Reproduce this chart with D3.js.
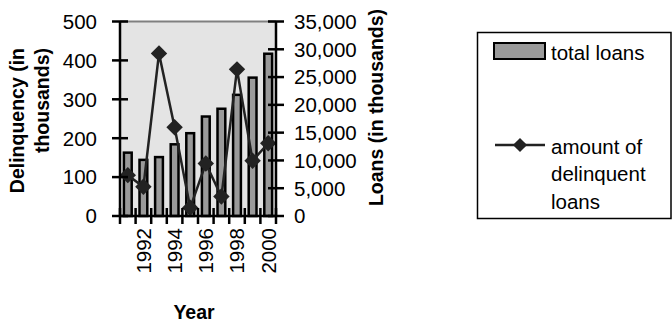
<!DOCTYPE html>
<html>
<head>
<meta charset="utf-8">
<script src="https://cdn.jsdelivr.net/npm/d3@7"></script>
<style>
  html, body { margin: 0; padding: 0; background: #fff; }
  svg { display: block; }
  text { font-family: "Liberation Sans", Arial, sans-serif; fill: #000; }
</style>
</head>
<body>
<script>
// Loans and delinquencies by year
const years = [1991, 1992, 1993, 1994, 1995, 1996, 1997, 1998, 1999, 2000];
const totalLoans = [11400, 10100, 10600, 12900, 14900, 17900, 19300, 21800, 24900, 29200]; // thousands
const delinquent = [105, 75, 418, 228, 21, 135, 50, 377, 142, 187];                          // thousands
const leftTicks = [0, 100, 200, 300, 400, 500];
const rightTicks = [0, 5000, 10000, 15000, 20000, 25000, 30000, 35000];
const yearLabels = [1992, 1994, 1996, 1998, 2000];

const W = 672, H = 323;
const plot = { left: 120, right: 276, top: 21.5, bottom: 216 };

const svg = d3.select("body").append("svg").attr("width", W).attr("height", H);

const x = d3.scaleBand().domain(years).range([plot.left, plot.right]).padding(0);
const yLeft = d3.scaleLinear().domain([0, 500]).range([plot.bottom, plot.top]);
const yRight = d3.scaleLinear().domain([0, 35000]).range([plot.bottom, plot.top]);

// plot area
svg.append("rect")
  .attr("x", plot.left).attr("y", plot.top)
  .attr("width", plot.right - plot.left).attr("height", plot.bottom - plot.top)
  .attr("fill", "#e4e4e4");
svg.append("line")
  .attr("x1", plot.left).attr("x2", plot.right)
  .attr("y1", plot.top).attr("y2", plot.top)
  .attr("stroke", "#808080").attr("stroke-width", 2);

// bars: total loans on the right axis
const barW = x.bandwidth() * 0.5;
svg.append("g").selectAll("rect").data(years).join("rect")
  .attr("x", d => x(d) + (x.bandwidth() - barW) / 2)
  .attr("y", (d, i) => yRight(totalLoans[i]))
  .attr("width", barW)
  .attr("height", (d, i) => plot.bottom - yRight(totalLoans[i]))
  .attr("fill", "#9a9a9a")
  .attr("stroke", "#000")
  .attr("stroke-width", 2.5);

// line: delinquent loans on the left axis
const cx = d => x(d) + x.bandwidth() / 2;
const line = d3.line().x((d, i) => cx(years[i])).y(d => yLeft(d));
svg.append("path").datum(delinquent)
  .attr("d", line)
  .attr("fill", "none").attr("stroke", "#222").attr("stroke-width", 2.5);

svg.append("g").selectAll("path").data(delinquent).join("path")
  .attr("transform", (d, i) => `translate(${cx(years[i])},${yLeft(d)}) rotate(45)`)
  .attr("d", d3.symbol().type(d3.symbolSquare).size(135))
  .attr("fill", "#222");

// axes
const axisStroke = 2.5, tickHalf = 8;
const axes = svg.append("g").attr("stroke", "#000").attr("stroke-width", axisStroke);

// left axis
axes.append("line").attr("x1", plot.left).attr("x2", plot.left)
  .attr("y1", plot.top).attr("y2", plot.bottom);
axes.selectAll(".lt").data(leftTicks).join("line").attr("class", "lt")
  .attr("x1", plot.left - tickHalf).attr("x2", plot.left + tickHalf)
  .attr("y1", d => yLeft(d)).attr("y2", d => yLeft(d));

// right axis
axes.append("line").attr("x1", plot.right).attr("x2", plot.right)
  .attr("y1", plot.top).attr("y2", plot.bottom);
axes.selectAll(".rt").data(rightTicks).join("line").attr("class", "rt")
  .attr("x1", plot.right - tickHalf).attr("x2", plot.right + tickHalf)
  .attr("y1", d => yRight(d)).attr("y2", d => yRight(d));

// bottom axis with ticks at category boundaries
axes.append("line").attr("x1", plot.left).attr("x2", plot.right)
  .attr("y1", plot.bottom).attr("y2", plot.bottom);
const bounds = years.map(d => x(d)).concat([x(years[years.length - 1]) + x.bandwidth()]);
axes.selectAll(".bt").data(bounds).join("line").attr("class", "bt")
  .attr("x1", d => d).attr("x2", d => d)
  .attr("y1", plot.bottom - tickHalf).attr("y2", plot.bottom + tickHalf);

// tick labels
const fs = 20.5;
svg.append("g").selectAll("text").data(leftTicks).join("text")
  .attr("x", 97).attr("y", d => yLeft(d)).attr("dy", "0.36em")
  .attr("text-anchor", "end").attr("font-size", fs)
  .text(d => d);

svg.append("g").selectAll("text").data(rightTicks).join("text")
  .attr("x", 294).attr("y", d => yRight(d)).attr("dy", "0.36em")
  .attr("text-anchor", "start").attr("font-size", fs)
  .text(d => d3.format(",")(d));

svg.append("g").selectAll("text").data(yearLabels).join("text")
  .attr("transform", d => `translate(${cx(d)},228) rotate(-90)`)
  .attr("dy", "0.36em").attr("text-anchor", "end").attr("font-size", fs)
  .text(d => d);

// axis titles
const tfs = 19.5;
const leftTitle = ["Delinquency (in", "thousands)"];
svg.append("g").selectAll("text").data(leftTitle).join("text")
  .attr("transform", (d, i) => `translate(${23.5 + i * 25},48) rotate(-90)`)
  .attr("text-anchor", "end").attr("font-size", tfs).attr("font-weight", "bold")
  .text(d => d);

svg.append("text")
  .attr("transform", "translate(383,107.5) rotate(-90)")
  .attr("text-anchor", "middle").attr("font-size", tfs).attr("font-weight", "bold")
  .text("Loans (in thousands)");

svg.append("text")
  .attr("x", 194).attr("y", 319)
  .attr("text-anchor", "middle").attr("font-size", tfs).attr("font-weight", "bold")
  .text("Year");

// legend
const lg = svg.append("g");
lg.append("rect").attr("x", 477.5).attr("y", 32.5).attr("width", 193.5).attr("height", 186)
  .attr("fill", "#fff").attr("stroke", "#000").attr("stroke-width", 1.5);
lg.append("rect").attr("x", 494).attr("y", 43).attr("width", 51).attr("height", 16)
  .attr("fill", "#9a9a9a").attr("stroke", "#000").attr("stroke-width", 2);
lg.append("text").attr("x", 551).attr("y", 60).attr("font-size", fs).text("total loans");
lg.append("line").attr("x1", 495).attr("x2", 545).attr("y1", 145).attr("y2", 145)
  .attr("stroke", "#222").attr("stroke-width", 2.5);
lg.append("path").attr("transform", "translate(520,145) rotate(45)")
  .attr("d", d3.symbol().type(d3.symbolSquare).size(100)).attr("fill", "#222");
lg.append("g").selectAll("text").data(["amount of", "delinquent", "loans"]).join("text")
  .attr("x", 551).attr("y", (d, i) => 153.5 + i * 27.5).attr("font-size", fs)
  .text(d => d);
</script>
</body>
</html>
